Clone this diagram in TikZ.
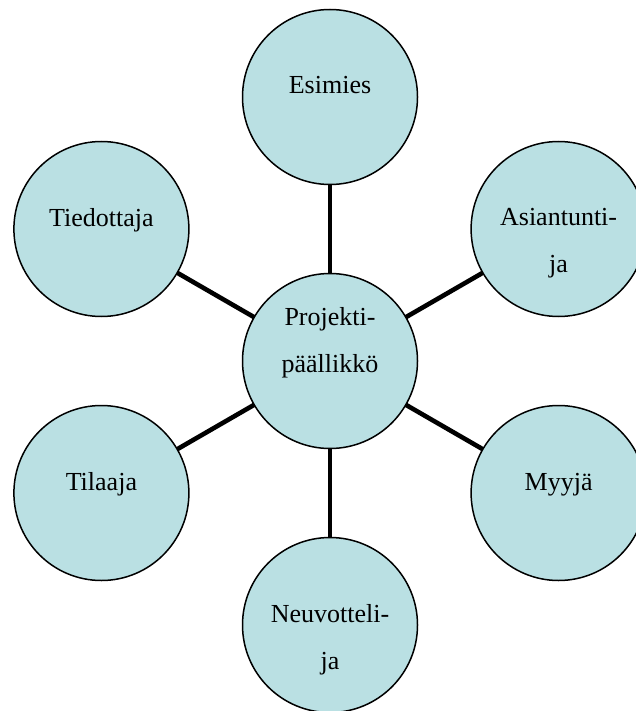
\documentclass[tikz,border=0pt]{standalone}
\usepackage{fontspec}
\setmainfont{Liberation Serif}
\definecolor{bubblefill}{RGB}{186,224,227}
\tikzset{
  bubble/.style={circle, draw=black, line width=1.5pt, fill=bubblefill,
    minimum size=175pt, inner sep=0pt},
  % base anchor sits on the last line of a label
  lbl/.style={anchor=base, inner sep=0pt, align=center,
    font=\fontsize{26}{47}\selectfont},
  link/.style={draw=black, line width=4.6pt}
}
\begin{document}
\begin{tikzpicture}[x=1pt, y=-1pt]
  \useasboundingbox (0,0) rectangle (636,711);
  % connectors first, so the circles cover their ends
  \coordinate (c) at (330,361);
  \coordinate (n) at (330,97);
  \coordinate (nw) at (101.4,229);
  \coordinate (ne) at (558.6,229);
  \coordinate (sw) at (101.4,493);
  \coordinate (se) at (558.6,493);
  \coordinate (s) at (330,625);
  \foreach \p in {n,nw,ne,sw,se,s} \draw[link] (c) -- (\p);
  % circles
  \node[bubble] (pm)   at (c)  {};
  \node[bubble] (esi)  at (n)  {};
  \node[bubble] (tie)  at (nw) {};
  \node[bubble] (asi)  at (ne) {};
  \node[bubble] (til)  at (sw) {};
  \node[bubble] (myy)  at (se) {};
  \node[bubble] (neu)  at (s)  {};
  % labels
  \node[lbl] (tpm)  at (330,372)   {Projekti-\\päällikkö};
  \node[lbl] (tesi) at (330,94)    {Esimies};
  \node[lbl] (ttie) at (101.4,226) {Tiedottaja};
  \node[lbl] (tasi) at (558.6,272) {Asiantunti-\\ja};
  \node[lbl] (ttil) at (101.4,490) {Tilaaja};
  \node[lbl] (tmyy) at (558.6,490) {Myyjä};
  \node[lbl] (tneu) at (330,669)   {Neuvotteli-\\ja};
\end{tikzpicture}
\end{document}
